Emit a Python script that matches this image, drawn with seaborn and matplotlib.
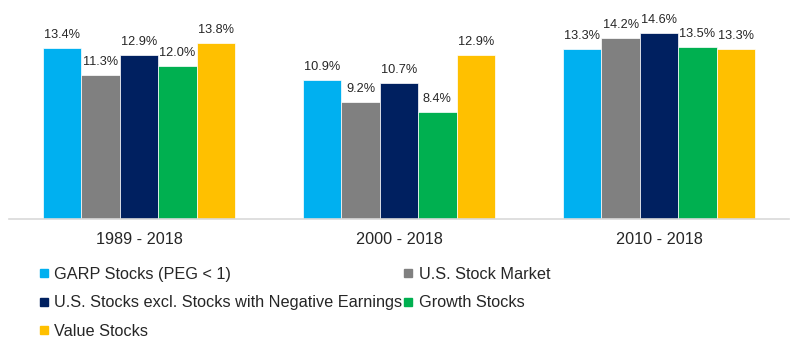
import matplotlib
matplotlib.use("Agg")
import matplotlib.pyplot as plt
from matplotlib.lines import Line2D
import seaborn as sns
import pandas as pd

periods = ["1989 - 2018", "2000 - 2018", "2010 - 2018"]
series = [
    "GARP Stocks (PEG < 1)",
    "U.S. Stock Market",
    "U.S. Stocks excl. Stocks with Negative Earnings",
    "Growth Stocks",
    "Value Stocks",
]
garp = [13.4, 10.9, 13.3]
market = [11.3, 9.2, 14.2]
excl_neg = [12.9, 10.7, 14.6]
growth = [12.0, 8.4, 13.5]
value = [13.8, 12.9, 13.3]
colors = ["#00B0F0", "#808080", "#002060", "#00B050", "#FFC000"]

rows = []
for name, vals in zip(series, [garp, market, excl_neg, growth, value]):
    for p, v in zip(periods, vals):
        rows.append({"Period": p, "Series": name, "Return": v})
df = pd.DataFrame(rows)

sns.set_theme(style="white")
plt.rcParams["font.family"] = ["Liberation Sans", "DejaVu Sans"]

fig = plt.figure(figsize=(8.0, 3.43), dpi=100)
ax = fig.add_axes([9 / 800, (343 - 219) / 343, 780 / 800, 219 / 343])

sns.barplot(
    data=df, x="Period", y="Return", hue="Series",
    order=periods, hue_order=series, palette=colors,
    width=0.738, saturation=1, errorbar=None, ax=ax,
    edgecolor="white", linewidth=0.5, legend=False,
)

text_color = "#262626"
for cont in ax.containers:
    ax.bar_label(cont, labels=[f"{v:.1f}%" for v in cont.datavalues],
                 padding=5, fontsize=9.2, color=text_color)

ax.set_xlim(-0.5, 2.5)
ax.set_ylim(0, 219 / 12.75)
ax.set_xlabel("")
ax.set_ylabel("")
ax.set_yticks([])
ax.tick_params(axis="x", length=0, pad=9, labelsize=11.7, colors=text_color)
for side in ["top", "right", "left"]:
    ax.spines[side].set_visible(False)
ax.spines["bottom"].set_color("#D9D9D9")
ax.spines["bottom"].set_linewidth(1.2)

# legend: column-major order so the rows read left-to-right
order = [0, 2, 4, 1, 3]
handles = [Line2D([], [], linestyle="none", marker="s", markersize=5.8,
                  markerfacecolor=colors[i], markeredgecolor=colors[i])
           for i in order]
labels = [series[i] for i in order]
fig.legend(handles, labels, ncol=2, loc="upper left",
           bbox_to_anchor=(39 / 800, 1 - 267 / 343),
           frameon=False, fontsize=11.7, handlelength=0.6,
           handletextpad=0.35, columnspacing=0.05, labelspacing=0.83,
           borderaxespad=0, borderpad=0, labelcolor=text_color)

fig.savefig("out.png", dpi=100)
